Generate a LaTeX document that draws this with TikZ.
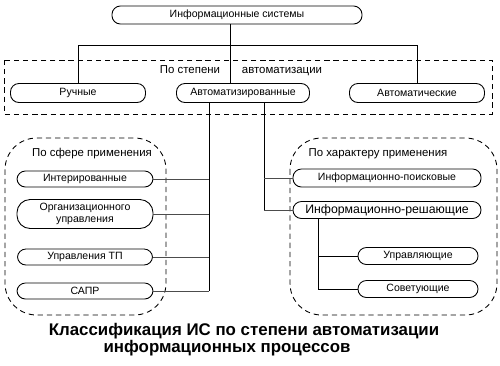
\documentclass[tikz,border=0pt]{standalone}
\usepackage{fontspec}
\setmainfont{Liberation Sans}
\usetikzlibrary{positioning,calc}

\begin{document}
\begin{tikzpicture}[
  x=0.2mm, y=-0.2mm,
  font=\fontsize{6}{7}\selectfont,
  box/.style={draw, line width=0.5pt, rounded corners=4.8pt, inner sep=1pt, align=center},
  wire/.style={line width=0.5pt},
  gwire/.style={line width=0.5pt, black!70},
  frame/.style={draw, line width=0.5pt, dash pattern=on 3pt off 2.2pt},
  lbl/.style={inner sep=0pt, anchor=base, font=\fontsize{6.5}{7.5}\selectfont},
]
\useasboundingbox (0,0) rectangle (500,365);
% top level
\node[box, minimum width=50mm, minimum height=3.6mm] (is) at (237,15) {Информационные системы};
% by degree of automation
\draw[frame] (4,60) rectangle (492,114);
\node[lbl] (stepen) at (190,73) {По степени};
\node[lbl] (avt) at (282,73) {автоматизации};
\node[box, minimum width=27mm, minimum height=3.8mm] (ruch) at (78,93) {Ручные};
\node[box, minimum width=26.6mm, minimum height=3.8mm] (avtz) at (243,93) {Автоматизированные};
\node[box, minimum width=27mm, minimum height=3.8mm] (avtm) at (417,93) {Автоматические};
% by sphere
\draw[frame, rounded corners=18pt] (5,138) rectangle (166,315);
\node[lbl] (sfera) at (92,156) {По сфере применения};
\node[box, minimum width=27.2mm, minimum height=3.2mm] (integ) at (85,179) {Интерированные};
\node[box, minimum width=27.2mm, minimum height=5.8mm, rounded corners=7.5pt] (org) at (85,214) {Организационного\\управления};
\node[box, minimum width=27mm, minimum height=3.2mm] (tp) at (85,257) {Управления ТП};
\node[box, minimum width=27.2mm, minimum height=3.2mm] (sapr) at (85,291) {САПР};
% by character
\draw[frame, rounded corners=18pt] (290,138) rectangle (497,315);
\node[lbl] (harakter) at (378,156) {По характеру применения};
\node[box, minimum width=37.6mm, minimum height=3.6mm] (poisk) at (387,178) {Информационно-поисковые};
\node[box, minimum width=37.6mm, minimum height=3.4mm, font=\fontsize{7}{8}\selectfont] (resh) at (387,210) {Информационно-решающие};
\node[box, minimum width=24mm, minimum height=3.4mm] (upr) at (418,256) {Управляющие};
\node[box, minimum width=24mm, minimum height=3.4mm] (sov) at (418,289) {Советующие};
% caption
\node[inner sep=0pt, font=\fontsize{9.6}{11}\bfseries] (cap1) at (244,331) {Классификация ИС по степени автоматизации};
\node[inner sep=0pt, font=\fontsize{9.6}{11}\bfseries] (cap2) at (227,348) {информационных процессов};
% links
\coordinate (trunk) at (230,45);
\coordinate (b1) at (209,0);
\coordinate (b2) at (264,0);
\coordinate (b3) at (318,0);
\draw[wire] (trunk |- is.south) -- (trunk |- avtz.north);
\draw[wire] (ruch.north) -- (ruch.north |- trunk) -- (avtm.north |- trunk) -- (avtm.north);
\draw[wire] (b1 |- avtz.south) -- (b1 |- sapr.east);
\draw[gwire] (b1 |- sapr.east) -- (sapr.east);
\foreach \n in {integ, org, tp} \draw[gwire] (\n.east) -- (\n.east -| b1);
\draw[wire] (b2 |- avtz.south) -- (b2 |- resh.west);
\draw[gwire] (b2 |- resh.west) -- (resh.west);
\draw[gwire] (poisk.west) -- (poisk.west -| b2);
\draw[wire] (b3 |- resh.south) -- (b3 |- sov.west) -- (sov.west);
\draw[wire] (upr.west) -- (upr.west -| b3);
\end{tikzpicture}
\end{document}
